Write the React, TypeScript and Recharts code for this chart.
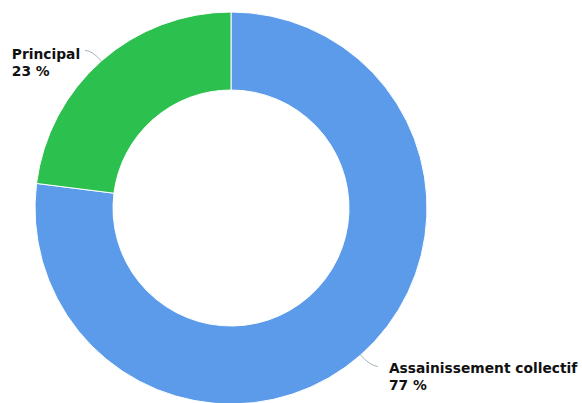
import { PieChart, Pie, Cell } from 'recharts';

const categories = ['Assainissement collectif', 'Principal'];
const values = [77, 23];
const colors = ['#5b9bea', '#2cc04f'];

const data = categories.map((name, i) => ({ name, value: values[i] }));

const RAD = Math.PI / 180;
const FONT = 'bold 13.8px "DejaVu Sans"';

function textWidth(s: string) {
  const c = document.createElement('canvas').getContext('2d');
  if (!c) return s.length * 8.5;
  c.font = FONT;
  return c.measureText(s).width;
}

const renderLabel = (props: any) => {
  const { cx, cy, midAngle, outerRadius, name, value } = props;
  const cos = Math.cos(-midAngle * RAD);
  const sin = Math.sin(-midAngle * RAD);
  const sx = cx + outerRadius * cos;
  const sy = cy + outerRadius * sin;
  const mx = cx + (outerRadius + 14) * cos;
  const my = cy + (outerRadius + 14) * sin;
  const right = cos >= 0;
  const ex = mx + (right ? 8 : -7);
  const ey = my + (right ? 1 : 0);
  const w = Math.max(textWidth(name), textWidth(`${value} %`));
  const tx = right ? ex + 11 : ex - 5 - w;
  const ty = ey + (right ? 6 : 9);
  return (
    <g>
      <path
        d={`M${sx},${sy} Q${mx},${my} ${ex},${ey}`}
        stroke="#9fb3b8"
        strokeWidth={1}
        fill="none"
      />
      <text x={tx} y={ty} fill="#111" style={{ font: FONT }}>
        <tspan x={tx} dy={0}>{name}</tspan>
        <tspan x={tx} dy={17}>{`${value} %`}</tspan>
      </text>
    </g>
  );
};

export default function App() {
  return (
    <div style={{ position: 'fixed', left: 0, top: 0, width: 582, height: 403, background: '#fff' }}>
      <PieChart width={582} height={403} margin={{ top: 0, right: 0, bottom: 0, left: 0 }}>
        <Pie
          data={data}
          dataKey="value"
          nameKey="name"
          cx={231}
          cy={208}
          innerRadius={118}
          outerRadius={196}
          startAngle={90}
          endAngle={-270}
          stroke="#ffffff"
          strokeWidth={1}
          label={renderLabel}
          labelLine={false}
          isAnimationActive={false}
        >
          {data.map((d, i) => (
            <Cell key={d.name} fill={colors[i]} />
          ))}
        </Pie>
      </PieChart>
    </div>
  );
}
